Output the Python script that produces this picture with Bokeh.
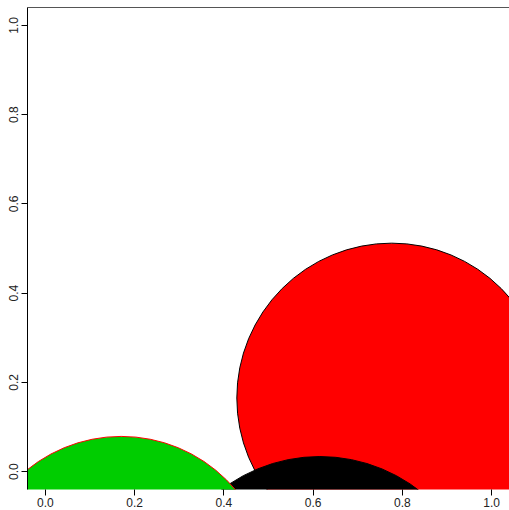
from bokeh.plotting import figure
from bokeh.models import ColumnDataSource, LinearAxis, FixedTicker, NumeralTickFormatter, Range1d
from bokeh.embed import file_html
from bokeh.resources import INLINE

# circle data (drawn in this order)
cx = [0.776, 0.615, 0.170]
cy = [0.165, -0.330, -0.255]
radius = [0.347, 0.364, 0.334]
fill = ["#FF0000", "#000000", "#00CD00"]
outline = ["#000000", "#000000", "#FF0000"]
ticks = [0.0, 0.2, 0.4, 0.6, 0.8, 1.0]

src = ColumnDataSource(dict(x=cx, y=cy, r=radius, f=fill, l=outline))

p = figure(frame_width=482, frame_height=482, output_backend="svg", toolbar_location=None,
           x_range=Range1d(-0.04, 1.04), y_range=Range1d(-0.04, 1.04),
           x_axis_location=None, y_axis_location=None,
           min_border_left=27, min_border_right=0, min_border_top=7, min_border_bottom=0)
p.grid.visible = False
p.outline_line_color = None
p.background_fill_color = "white"

p.circle(x="x", y="y", radius="r", fill_color="f", line_color="l", line_width=1, source=src)

font = "Liberation Sans"
xa = LinearAxis(ticker=FixedTicker(ticks=ticks), formatter=NumeralTickFormatter(format="0.0"))
xa.axis_line_color = None
xa.major_tick_out = 6
xa.major_tick_in = 0
xa.minor_tick_out = 0
xa.major_label_standoff = 2
xa.major_label_text_font = font
xa.major_label_text_font_size = "12px"
xa.major_label_text_color = "#222222"
p.add_layout(xa, "below")

ya = LinearAxis(ticker=FixedTicker(ticks=ticks), formatter=NumeralTickFormatter(format="0.0"))
ya.axis_line_color = "black"
ya.major_tick_out = 6
ya.major_tick_in = 0
ya.minor_tick_out = 0
ya.major_label_standoff = 3
ya.major_label_orientation = "vertical"
ya.major_label_text_font = font
ya.major_label_text_font_size = "12px"
ya.major_label_text_color = "#222222"
p.add_layout(ya, "left")

ta = LinearAxis(ticker=FixedTicker(ticks=[]))
ta.axis_line_color = "#555555"
ta.major_tick_out = 0
ta.major_tick_in = 0
ta.minor_tick_out = 0
ta.minor_tick_in = 0
ta.major_label_standoff = 0
ta.major_label_text_font_size = "0px"
p.add_layout(ta, "above")

open("out.html", "w").write(file_html(p, INLINE))
